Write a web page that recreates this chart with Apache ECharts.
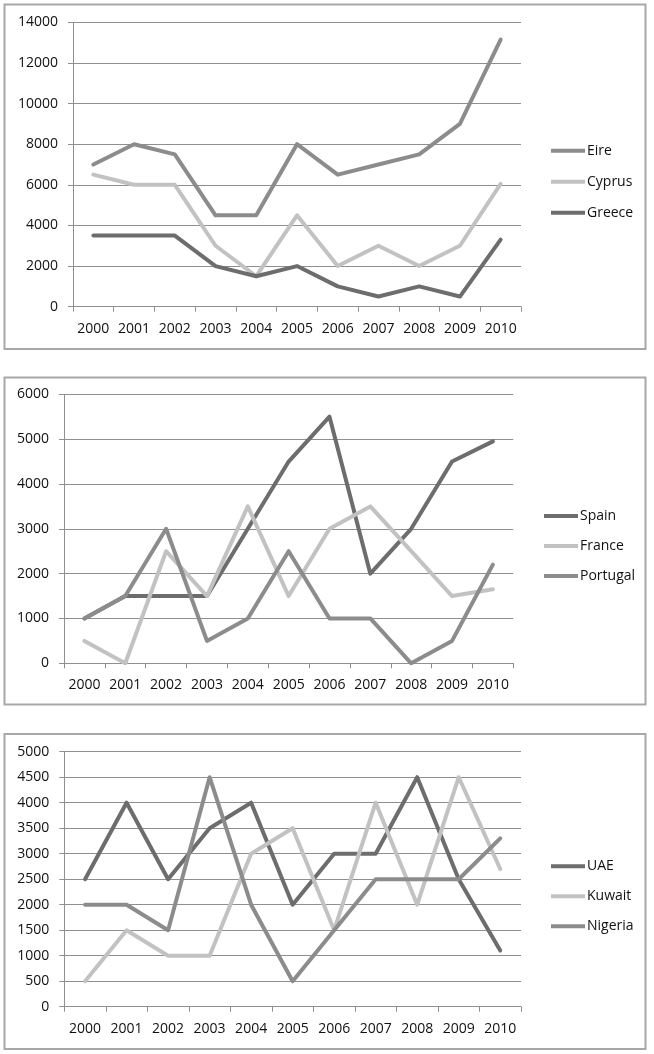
<!DOCTYPE html>
<html>
<head>
<meta charset="utf-8">
<script src="https://cdn.jsdelivr.net/npm/echarts@6/dist/echarts.min.js"></script>
<style>
html,body{margin:0;padding:0;background:#fff;}
#c{width:654px;height:1054px;}
</style>
</head>
<body>
<div id="c"></div>
<script>
const years = ['2000','2001','2002','2003','2004','2005','2006','2007','2008','2009','2010'];
const eire   = [7000, 8000, 7500, 4500, 4500, 8000, 6500, 7000, 7500, 9000, 13150];
const cyprus = [6500, 6000, 6000, 3000, 1500, 4500, 2000, 3000, 2000, 3000, 6050];
const greece = [3500, 3500, 3500, 2000, 1500, 2000, 1000, 500, 1000, 500, 3300];
const spain    = [1000, 1500, 1500, 1500, 3000, 4500, 5500, 2000, 3000, 4500, 4950];
const france   = [500, 0, 2500, 1500, 3500, 1500, 3000, 3500, 2500, 1500, 1650];
const portugal = [1000, 1500, 3000, 500, 1000, 2500, 1000, 1000, 0, 500, 2200];
const uae     = [2500, 4000, 2500, 3500, 4000, 2000, 3000, 3000, 4500, 2500, 1100];
const kuwait  = [500, 1500, 1000, 1000, 3000, 3500, 1500, 4000, 2000, 4500, 2700];
const nigeria = [2000, 2000, 1500, 4500, 2000, 500, 1500, 2500, 2500, 2500, 3300];

const DARK = '#6d6d6d', MID = '#8c8c8c', LIGHT = '#c2c2c2';
const GRID = '#8f8f8f';
const FONT = 'Open Sans';
const TXT = '#111';

const chart = echarts.init(document.getElementById('c'), null, {renderer: 'canvas'});

const grids = [
  {left: 73, top: 22.3, width: 448, height: 284.4},
  {left: 64, top: 394.3, width: 449.3, height: 269},
  {left: 64.3, top: 751.7, width: 456.7, height: 255}
];
const yMax = [14000, 6000, 5000];
const yInt = [2000, 1000, 500];

function xAxis(i) {
  return {
    type: 'category', gridIndex: i, data: years, boundaryGap: true,
    axisLine: {show: true, lineStyle: {color: GRID, width: 1}},
    axisTick: {show: true, length: 5, lineStyle: {color: GRID}},
    axisLabel: {color: TXT, fontFamily: FONT, fontSize: 14, margin: 15, interval: 0}
  };
}
function yAxis(i) {
  return {
    type: 'value', gridIndex: i, min: 0, max: yMax[i], interval: yInt[i],
    axisLine: {show: true, lineStyle: {color: GRID, width: 1}},
    axisTick: {show: true, length: 5, lineStyle: {color: GRID}},
    splitLine: {show: true, lineStyle: {color: GRID, width: 1}},
    axisLabel: {color: TXT, fontFamily: FONT, fontSize: 14, margin: 15, formatter: v => String(v)}
  };
}
function line(name, data, color, i) {
  return {
    name, type: 'line', data, xAxisIndex: i, yAxisIndex: i,
    showSymbol: false, symbol: 'none', animation: false,
    lineStyle: {color, width: 4, cap: 'round', join: 'round'},
    itemStyle: {color}
  };
}
function legend(names, left, top, gap) {
  return {
    data: names, orient: 'vertical', left, top,
    icon: 'rect', itemWidth: 34, itemHeight: 4, itemGap: gap,
    textStyle: {color: TXT, fontFamily: FONT, fontSize: 14, lineHeight: 16, padding: [0,0,0,-3]},
    selectedMode: false
  };
}
function border(x, y, w, h) {
  return {type: 'rect', shape: {x, y, width: w, height: h}, style: {fill: 'none', stroke: '#a8a8a8', lineWidth: 2}, silent: true};
}

chart.setOption({
  animation: false,
  backgroundColor: '#fff',
  grid: grids,
  xAxis: [xAxis(0), xAxis(1), xAxis(2)],
  yAxis: [yAxis(0), yAxis(1), yAxis(2)],
  legend: [
    legend(['Eire','Cyprus','Greece'], 546, 137.7, 15),
    legend(['Spain','France','Portugal'], 539, 503, 14),
    legend(['UAE','Kuwait','Nigeria'], 546, 853.3, 14)
  ],
  graphic: [
    border(4.5, 4.5, 641, 344.5),
    border(4.5, 377.5, 641, 327),
    border(4.5, 734, 641, 315)
  ],
  series: [
    line('Eire', eire, MID, 0),
    line('Cyprus', cyprus, LIGHT, 0),
    line('Greece', greece, DARK, 0),
    line('Spain', spain, DARK, 1),
    line('France', france, LIGHT, 1),
    line('Portugal', portugal, MID, 1),
    line('UAE', uae, DARK, 2),
    line('Kuwait', kuwait, LIGHT, 2),
    line('Nigeria', nigeria, MID, 2)
  ]
});
</script>
</body>
</html>
